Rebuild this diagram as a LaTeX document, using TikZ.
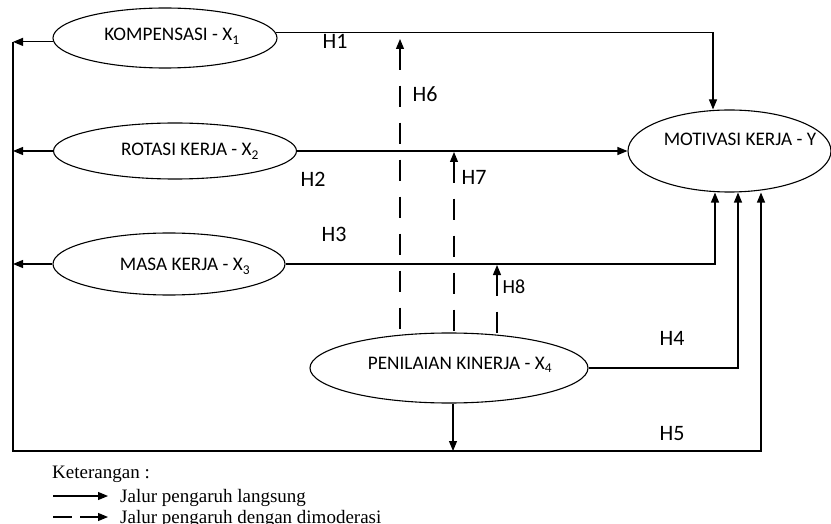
\documentclass[tikz,border=0pt]{standalone}
\usepackage{fontspec}
\setmainfont{Carlito}
\newfontfamily\legendfont{Liberation Serif}
\usetikzlibrary{shapes.geometric,arrows.meta,backgrounds}
\begin{document}
\begin{tikzpicture}[x=1pt,y=-1pt,
  ell/.style={draw, ellipse, line width=1.1pt, fill=white, inner sep=0pt},
  lbl/.style={anchor=base, font=\fontsize{19.2}{23}\selectfont, inner sep=0pt},
  hl/.style={anchor=base, font=\fontsize{22}{26}\selectfont, inner sep=0pt},
  hs/.style={anchor=base, font=\fontsize{20}{24}\selectfont, inner sep=0pt},
  legtext/.style={anchor=base west, font=\legendfont\fontsize{19}{22}\selectfont, inner sep=0pt},
  conn/.style={line width=1.1pt},
  tip/.style={-{Triangle[length=10pt,width=8pt]}},
  arr/.style={conn, tip},
  dsh/.style={conn, dash pattern=on 21pt off 16pt},
]
\useasboundingbox (0,0) rectangle (831,524);

% ellipses
\node[ell, minimum width=224pt, minimum height=60pt] (k) at (165,38) {};
\node[ell, minimum width=243pt, minimum height=56pt] (r) at (175,151) {};
\node[ell, minimum width=232pt, minimum height=62pt] (s) at (169,264) {};
\node[ell, minimum width=278pt, minimum height=70pt] (p) at (449,368) {};
\node[ell, minimum width=203pt, minimum height=82pt] (m) at (729.5,151) {};

% ellipse labels
\node[lbl] (kt) at (172,41) {KOMPENSASI - X\textsubscript{1}};
\node[lbl] (rt) at (190,156) {ROTASI KERJA - X\textsubscript{2}};
\node[lbl] (st) at (185,271) {MASA KERJA - X\textsubscript{3}};
\node[lbl] (pt) at (460,369) {PENILAIAN KINERJA - X\textsubscript{4}};
\node[lbl] (mt) at (740,146) {MOTIVASI KERJA - Y};

% coordinates
\coordinate (L) at (13,42);
\coordinate (B) at (13,451);
\coordinate (x1) at (713,0);
\coordinate (x3) at (715,0);
\coordinate (x4) at (738,0);
\coordinate (x5) at (761,451);
\coordinate (dn) at (453,0);
\coordinate (h6t) at (400,39);
\coordinate (h7t) at (454,152);
\coordinate (h8t) at (497,265);

% direct paths
\draw[arr] (k.182) -- (k.182 -| L);
\draw[arr] (r.west) -- (r.west -| L);
\draw[arr] (s.west) -- (s.west -| L);
\draw[arr] (L) -- (B) -- (x5) -- (m.south -| x5);
\draw[arr] (k.3) -| (m.north -| x1);
\draw[arr] (r.east) -- (m.west);
\draw[arr] (s.east) -| (m.south -| x3);
\draw[arr] (p.east) -| (m.south -| x4);
\draw[arr] (p.south -| dn) -- (dn |- B);

% moderation paths
\begin{scope}[on background layer]
\draw[dsh, {Triangle[length=10pt,width=8pt]}-] (h6t) -- (h6t |- p.center);
\draw[dsh, {Triangle[length=10pt,width=8pt]}-] (h7t) -- (h7t |- p.center);
\draw[dsh, {Triangle[length=10pt,width=8pt]}-] (h8t) -- (h8t |- p.center);
\end{scope}

% hypothesis labels
\node[hl] (H1) at (335,48.5) {H1};
\node[hl] (H2) at (313,187) {H2};
\node[hl] (H3) at (334,242) {H3};
\node[hl] (H4) at (672,345) {H4};
\node[hl] (H5) at (672,440) {H5};
\node[hl] (H6) at (425,102) {H6};
\node[hl] (H7) at (474,185) {H7};
\node[hs] (H8) at (514,293) {H8};

% legend
\node[legtext] (ket) at (52,478) {Keterangan :};
\coordinate (la1) at (53,496);
\coordinate (lb1) at (108,496);
\draw[arr] (la1) -- (lb1);
\node[legtext] (t1) at (120,502.5) {Jalur pengaruh langsung};
\coordinate (la2) at (53,517);
\coordinate (lm2) at (72,517);
\coordinate (ls2) at (80,517);
\coordinate (lb2) at (108,517);
\draw[conn] (la2) -- (lm2);
\draw[arr] (ls2) -- (lb2);
\node[legtext] (t2) at (120,523) {Jalur pengaruh dengan dimoderasi};
\end{tikzpicture}
\end{document}
